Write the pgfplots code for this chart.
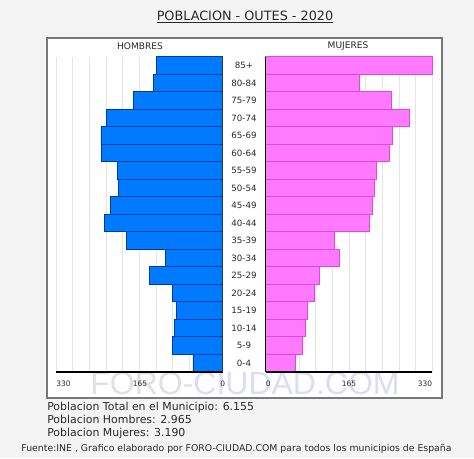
\documentclass[border=0pt]{standalone}
\usepackage{pgfplots}
\pgfplotsset{compat=1.18}
\usepackage{fontspec}
\setmainfont{DejaVu Sans}
\newfontfamily\wm{Liberation Sans}
\definecolor{bgc}{RGB}{244,244,244}
\definecolor{frm}{RGB}{120,120,120}
\definecolor{mfill}{RGB}{0,122,255}
\definecolor{medge}{RGB}{0,60,160}
\definecolor{ffill}{RGB}{255,122,255}
\definecolor{fedge}{RGB}{225,70,225}
\definecolor{txt}{RGB}{40,40,40}
\definecolor{grd}{RGB}{228,228,228}
\definecolor{wmg}{RGB}{224,224,224}
\definecolor{wmb}{RGB}{220,220,244}
\newcommand{\pp}[2]{({(#1)*0.75pt},{(458-(#2))*0.75pt})}
\pgfplotstableread{
y m f
0 59 59
1 99 73
2 96 79
3 92 82
4 99 96
5 145 106
6 114 145
7 191 135
8 234 205
9 223 211
10 207 214
11 208 218
12 240 245
13 241 251
14 231 284
15 177 248
16 137 185
17 132 329
}\data
\begin{document}
\begin{tikzpicture}
\fill[bgc] (0,0) rectangle (474*0.75pt,458*0.75pt);
\filldraw[fill=white, draw=frm, line width=1.5pt] \pp{47}{38} rectangle \pp{442}{398};
\node[txt, font=\fontsize{9.6pt}{11pt}\selectfont] at \pp{245}{17} {\underline{POBLACION - OUTES - 2020}};
\node[font=\wm\fontsize{24pt}{26pt}\selectfont, inner sep=0pt] at \pp{245}{383} {\textcolor{wmg}{FORO-}\textcolor{wmb}{CIUDAD.COM}};
\pgfplotsset{pyr/.style={
  xbar, bar width=1, scale only axis,
  width=166.7*0.75pt, height=315*0.75pt,
  xmin=0, xmax=330, ymin=-0.5, ymax=17.5,
  xtick={0,33,...,330}, xticklabels={}, ytick=\empty,
  xmajorgrids, grid style={grd, line width=0.6pt},
  major tick length=0pt, axis line style={draw=none},
  clip=false, anchor=south west}}
\begin{axis}[pyr, at={(42pt,64.725pt)}, x dir=reverse]
\addplot[fill=mfill, draw=medge, line width=0.4pt] table[x=m, y=y] {\data};
\draw[black, line width=1.2pt] (axis cs:330,-0.5) -- (axis cs:0,-0.5);
\draw[black!80, line width=0.8pt] (axis cs:0,-0.5) -- (axis cs:0,17.5);
\end{axis}
\begin{axis}[pyr, at={(199.275pt,64.725pt)}]
\addplot[fill=ffill, draw=fedge, line width=0.4pt] table[x=f, y=y] {\data};
\draw[black, line width=1.2pt] (axis cs:330,-0.5) -- (axis cs:0,-0.5);
\draw[black, line width=0.9pt] (axis cs:0,-0.5) -- (axis cs:0,17.5);
\end{axis}
\foreach \lab [count=\i from 0] in {85+,80-84,75-79,70-74,65-69,60-64,55-59,50-54,45-49,40-44,35-39,30-34,25-29,20-24,15-19,10-14,5-9,0-4} {
  \node[txt, font=\fontsize{6.5pt}{7pt}\selectfont] at \pp{244}{65.45+17.5*\i} {\lab};
}
\node[txt, font=\fontsize{6.8pt}{7pt}\selectfont] at \pp{140}{46} {HOMBRES};
\node[txt, font=\fontsize{6.8pt}{7pt}\selectfont] at \pp{348}{46} {MUJERES};
\begin{scope}[every node/.style={txt, font=\fontsize{5.6pt}{6pt}\selectfont, inner sep=0pt}]
\node[anchor=west] at \pp{56}{384} {330};
\node at \pp{140}{384} {165};
\node at \pp{222.7}{384} {0};
\node[anchor=west] at \pp{265.7}{384} {0};
\node at \pp{349}{384} {165};
\node[anchor=east] at \pp{432.3}{384} {330};
\end{scope}
\node[txt, anchor=north west, align=left, inner sep=0pt, font=\fontsize{8.2pt}{9.75pt}\selectfont] at \pp{47}{402} {Poblacion Total en el Municipio: 6.155\\Poblacion Hombres: 2.965\\Poblacion Mujeres: 3.190};
\node[txt, inner sep=0pt, font=\fontsize{7pt}{8pt}\selectfont] at \pp{236.5}{449} {Fuente:INE , Grafico elaborado por FORO-CIUDAD.COM para todos los municipios de España};
\pgfresetboundingbox
\path (0,0) rectangle (474*0.75pt,458*0.75pt);
\end{tikzpicture}
\end{document}
